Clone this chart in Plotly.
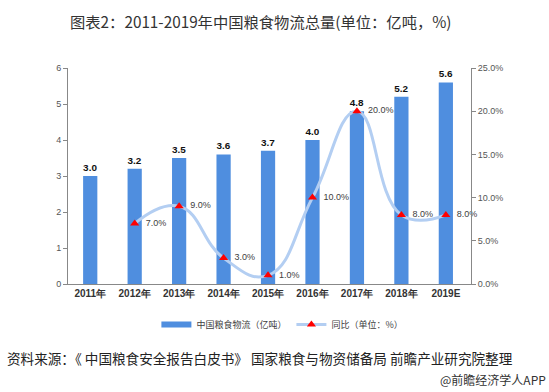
import plotly.graph_objects as go

years = ["2011年", "2012年", "2013年", "2014年", "2015年", "2016年", "2017年", "2018年", "2019E"]
volume = [3.0, 3.2, 3.5, 3.6, 3.7, 4.0, 4.8, 5.2, 5.6]
yoy_years = ["2012年", "2013年", "2014年", "2015年", "2016年", "2017年", "2018年", "2019E"]
yoy = [7.0, 9.0, 3.0, 1.0, 10.0, 20.0, 8.0, 8.0]

CJK = "Noto Sans CJK SC"
LAT = "Liberation Sans"
BAR = "#4F8EDF"
LINE = "#B3CEF2"

fig = go.Figure()
fig.add_trace(go.Bar(
    x=years, y=volume, name="中国粮食物流（亿吨）", showlegend=False,
    marker=dict(color=BAR, line=dict(width=0)),
    width=0.32,
    text=[f"{v:.1f}" for v in volume], textposition="outside",
    textfont=dict(family=LAT, size=10, color="#111111", weight="bold"),
    cliponaxis=False,
))
# legend swatch for the bar series (wide rectangle as in the reference)
fig.add_trace(go.Scatter(
    x=[None], y=[None], name="中国粮食物流（亿吨）", mode="lines",
    line=dict(color=BAR, width=6),
))
fig.add_trace(go.Scatter(
    x=yoy_years, y=yoy, name="同比（单位：%）", yaxis="y2",
    mode="lines+markers+text",
    line=dict(color=LINE, width=3, shape="spline", smoothing=1.3),
    marker=dict(symbol="triangle-up", color="#FF0000", size=8),
    text=["\u00a0\u00a0" + f"{v:.1f}%" for v in yoy], textposition="middle right",
    textfont=dict(family=LAT, size=9, color="#404040"),
    cliponaxis=False,
))

fig.update_layout(
    width=549, height=392,
    margin=dict(l=68, r=78, t=68, b=108),
    paper_bgcolor="white", plot_bgcolor="white",
    showlegend=True,
    legend=dict(orientation="h", x=0.532, xanchor="center", y=-0.12, yanchor="top",
                font=dict(family=CJK, size=9, color="#404040"), itemwidth=30,
                tracegroupgap=0),
    title=dict(text="图表2：2011-2019年中国粮食物流总量(单位：亿吨，%)",
               xref="container", x=0.475, xanchor="center",
               yref="container", y=0.941, yanchor="middle",
               font=dict(family=CJK, size=15.3, color="#333333")),
    xaxis=dict(type="category", showline=True, linecolor="#888888", linewidth=1,
               ticks="", tickfont=dict(family=LAT, size=10, color="#333333", weight="bold"),
               showgrid=False, fixedrange=True),
    yaxis=dict(range=[0, 6], dtick=1, showline=True, linecolor="#888888", linewidth=1,
               ticks="outside", ticklen=4, tickcolor="#888888",
               tickfont=dict(family=LAT, size=9, color="#555555"),
               showgrid=False, zeroline=False),
    yaxis2=dict(range=[0, 25], dtick=5, overlaying="y", side="right",
                showline=True, linecolor="#888888", linewidth=1,
                ticks="outside", ticklen=4, tickcolor="#888888",
                tickformat=".1f", ticksuffix="%",
                tickfont=dict(family=LAT, size=9, color="#555555"),
                showgrid=False, zeroline=False),
    annotations=[
        dict(text="资料来源：《 中国粮食安全报告白皮书》 国家粮食与物资储备局 前瞻产业研究院整理",
             xref="paper", yref="paper", x=-0.156, y=-0.343, xanchor="left", yanchor="middle",
             showarrow=False, font=dict(family=CJK, size=13.6, color="#222222")),
        dict(text="@前瞻经济学人APP",
             xref="paper", yref="paper", x=1.19, y=-0.444, xanchor="right", yanchor="middle",
             showarrow=False, font=dict(family=CJK, size=12, color="#333333")),
    ],
)

fig.write_html("out.html", config={"displayModeBar": False},
               post_script="document.body.style.margin='0';")
